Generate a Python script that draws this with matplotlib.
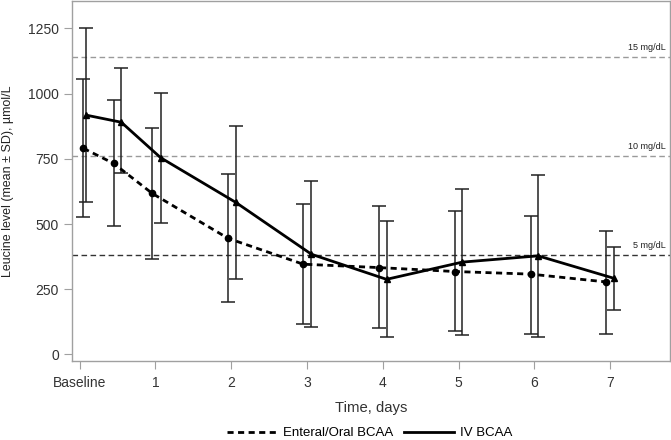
import numpy as np
import matplotlib
matplotlib.use("Agg")
import matplotlib.pyplot as plt

plt.rcParams['font.family'] = ['Liberation Sans', 'DejaVu Sans']

# time points (days); the two groups are drawn slightly offset
enteral_x = [0.05, 0.45, 0.96, 1.96, 2.95, 3.95, 4.95, 5.95, 6.95]
iv_x = [0.09, 0.55, 1.07, 2.06, 3.06, 4.05, 5.05, 6.05, 7.05]

enteral_mean = [790, 732, 617, 445, 346, 333, 318, 308, 278]
enteral_upper = [1055, 977, 866, 693, 578, 569, 551, 531, 475]
enteral_lower = [525, 492, 365, 200, 116, 103, 91, 80, 80]

iv_mean = [917, 890, 754, 583, 384, 288, 354, 378, 292]
iv_upper = [1250, 1096, 1003, 874, 666, 510, 634, 689, 413]
iv_lower = [585, 694, 503, 288, 107, 66, 75, 66, 170]

ref_values = [1141, 760, 383]
ref_labels = ["15 mg/dL", "10 mg/dL", "5 mg/dL"]
ref_colors = ["#9a9a9a", "#9a9a9a", "#333333"]

tick_pos = [0, 1, 2, 3, 4, 5, 6, 7]
tick_labels = ["Baseline", "1", "2", "3", "4", "5", "6", "7"]

fig = plt.figure(figsize=(6.71, 4.40), dpi=100)
ax = fig.add_axes([0.1073, 0.1795, 0.8912, 0.8185])

for v, lab, c in zip(ref_values, ref_labels, ref_colors):
    ax.axhline(v, color=c, lw=1.0, linestyle=(0, (4, 2.5)), zorder=1)
    ax.text(7.74, v + 18, lab, ha='right', va='bottom', fontsize=6.5, color='#222222')


def draw_group(x, mean, upper, lower, ls, marker, label):
    m = np.array(mean)
    yerr = [m - np.array(lower), np.array(upper) - m]
    ax.errorbar(x, mean, yerr=yerr, fmt='none', ecolor='#222222', elinewidth=1.1,
                capsize=5, capthick=1.1, zorder=2)
    ax.plot(x, mean, color='black', lw=2.0, linestyle=ls, marker=marker,
            markersize=4.5, zorder=3, label=label)


draw_group(enteral_x, enteral_mean, enteral_upper, enteral_lower,
           (0, (2.2, 1.6)), 'o', 'Enteral/Oral BCAA')
draw_group(iv_x, iv_mean, iv_upper, iv_lower, '-', '^', 'IV BCAA')

ax.set_xlim(-0.1, 7.79)
ax.set_ylim(-25, 1355)
ax.set_xticks(tick_pos)
ax.set_xticklabels(tick_labels)
ax.set_yticks([0, 250, 500, 750, 1000, 1250])

for s in ax.spines.values():
    s.set_color('#a0a0a0')
    s.set_linewidth(1.0)
ax.tick_params(colors='#a0a0a0', labelcolor='#333333', labelsize=10, length=6)
ax.tick_params(axis='x', pad=5)

ax.set_xlabel("Time, days", fontsize=10.7, color='#333333')
ax.xaxis.set_label_coords(0.5, -0.11)
ax.set_ylabel("Leucine level (mean \u00b1 SD), \u00b5mol/L", fontsize=9.0, color='#222222')
ax.yaxis.set_label_coords(-0.097, 0.5)

handles, labels = ax.get_legend_handles_labels()
fig.legend(handles, labels, loc='center', bbox_to_anchor=(370 / 671, 1 - 433 / 440),
           ncol=2, frameon=False, fontsize=9.5, handlelength=3.8, columnspacing=0.8,
           handletextpad=0.45, markerscale=0)

fig.savefig("out.png", dpi=100)
